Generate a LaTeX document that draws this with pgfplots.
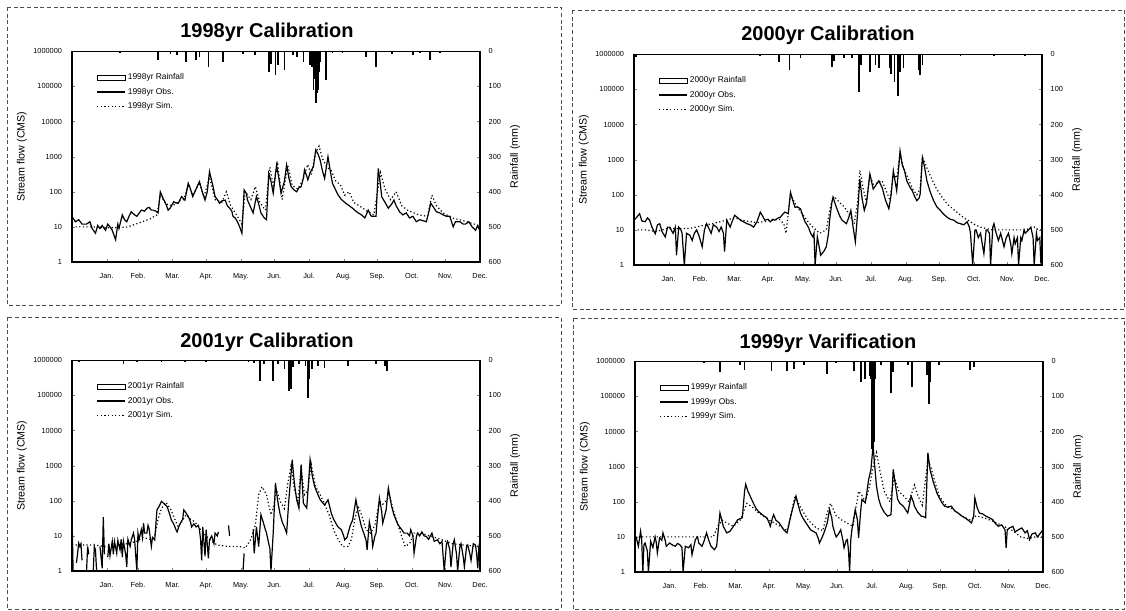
\documentclass[border=0pt]{standalone}
\usepackage{fontspec}
\setmainfont{Liberation Sans}
\usepackage{pgfplots}
\pgfplotsset{compat=1.18}

\pgfplotsset{
  legend image code/.code={\draw[#1] (0pt,0pt) -- (21pt,0pt);},
  flowax/.style={
    scale only axis, width=306pt, height=158pt, anchor=south west,
    xmin=0, xmax=365, ymin=1, ymax=1000000,
    xtick={31,59,90,120,151,181,212,243,273,304,334,365},
    xticklabels={Jan.,Feb.,Mar.,Apr.,May.,Jun.,Jul.,Aug.,Sep.,Oct.,Nov.,Dec.},
    ytick={1,10,100,1000,10000,100000,1000000},
    yticklabels={1,10,100,1000,10000,100000,1000000},
    yminorticks=false,
    xtick pos=bottom, ytick pos=left,
    tick align=inside, major tick length=2pt,
    tick label style={font=\fontsize{5.5}{6}\selectfont},
    yticklabel style={xshift=-4pt},
    xticklabel style={yshift=-5pt},
    ylabel={Stream flow (CMS)},
    ylabel style={yshift=-2pt},
    label style={font=\fontsize{8}{9}\selectfont},
    axis line style={line width=0.8pt},
    legend style={at={(0.05,0.92)}, anchor=north west, draw=none, fill=none,
      font=\fontsize{6.3}{7}\selectfont, row sep=0.6pt,
      nodes={inner xsep=1.5pt}},
    legend cell align=left,
    unbounded coords=jump,
  },
  rainax/.style={
    scale only axis, width=306pt, height=158pt, anchor=south west,
    xmin=0, xmax=365, ymin=0, ymax=600, y dir=reverse,
    axis x line=none, axis y line*=right,
    ytick={0,100,200,300,400,500,600},
    yticklabels={0,100,200,300,400,500,600},
    tick align=inside, major tick length=2pt,
    tick label style={font=\fontsize{5.5}{6}\selectfont},
    yticklabel style={xshift=3pt},
    ylabel={Rainfall (mm)},
    label style={font=\fontsize{8}{9}\selectfont},
    axis line style={line width=0.8pt},
  },
  obsline/.style={black, line width=0.9pt},
  simline/.style={black, line width=0.9pt, dash pattern=on 0.9pt off 1.8pt},
  rainbar/.style={black, ycomb, line width=1.3pt},
}
\newcommand{\rainleg}{\addlegendimage{legend image code/.code={\draw[line width=0.7pt, fill=white] (0pt,-1.8pt) rectangle (21pt,1.8pt);}}}
\newcommand{\ttl}{\fontsize{15}{18}\selectfont\bfseries}

\begin{document}
\begin{tikzpicture}
\useasboundingbox (0,0) rectangle (844.5pt,-457.5pt);
\begin{scope}[densely dashed, line width=0.4pt, black!70]
\draw (5.25pt,-5.25pt) rectangle (420.75pt,-228.75pt);
\draw (429pt,-7.5pt) rectangle (843.5pt,-231.75pt);
\draw (5.25pt,-237.75pt) rectangle (420.75pt,-456.75pt);
\draw (429.75pt,-238.5pt) rectangle (843.5pt,-456.75pt);
\end{scope}
\node at (200.25pt,-24pt) {\ttl 1998yr Calibration};
\node at (621pt,-26.25pt) {\ttl 2000yr Calibration};
\node at (200.25pt,-256.5pt) {\ttl 2001yr Calibration};
\node at (621pt,-257.25pt) {\ttl 1999yr Varification};

% ---------------- 1998 ----------------
\begin{axis}[rainax, at={(54pt,-196.5pt)}]
\addplot[rainbar] coordinates {(43,5)(57,3)(77,25)(88,8)(94,10)(102,30)(111,25)(114,15)(122,45)(135,30)(153,7)(164,10)(176,58)(178,35)(182,68)(184,40)(190,54)(198,10)(201,15)(207,30)(213,40)(215,45)(216,110)(217,80)(218,148)(219,120)(220,110)(221,60)(222,30)(227,82)(233,5)(242,5)(263,16)(272,45)(286,8)(305,10)(311,5)(320,25)(329,5)};
\end{axis}
\begin{semilogyaxis}[flowax, at={(54pt,-196.5pt)}]
\rainleg \addlegendentry{1998yr Rainfall}
\addplot[obsline] coordinates {(0,20)(3,14)(6,16)(9,12)(13,12)(16,14)(18,9)(21,6.6)(23,11)(25,9)(27,11)(30,8)(32,12)(34,10)(36,8)(39,4.3)(41,12)(42,9)(45,22)(47,16)(49,14)(51,20)(53,27)(56,22)(58,20)(62,30)(65,28)(67,34)(69,36)(71,30)(73,30)(75,28)(77,25)(79,100)(82,60)(84,45)(86,30)(88,35)(91,52)(93,48)(95,47)(98,73)(101,58)(104,175)(106,120)(108,73)(111,120)(114,195)(117,90)(119,58)(121,100)(123,375)(126,150)(128,73)(130,60)(132,47)(134,55)(137,58)(139,40)(141,34)(143,28)(144,20)(146,18)(148,14)(150,10)(152,6.6)(154,113)(156,90)(157,58)(160,35)(162,25)(165,73)(167,45)(169,25)(172,18)(174,16)(176,335)(178,200)(180,91)(183,580)(185,250)(187,91)(190,200)(192,580)(194,250)(196,140)(199,110)(201,100)(203,130)(205,140)(207,250)(208,420)(210,280)(211,218)(213,350)(216,520)(218,1550)(220,1200)(222,800)(224,400)(226,240)(229,1000)(231,400)(233,175)(236,110)(238,82)(241,60)(245,47)(248,40)(251,34)(254,28)(256,25)(259,22)(262,18)(265,30)(267,22)(268,20)(270,20)(272,20)(274,465)(276,150)(277,73)(280,50)(283,34)(286,45)(288,58)(290,40)(293,27)(296,22)(299,25)(302,18)(305,20)(308,14)(311,16)(314,15)(317,14)(319,25)(321,47)(323,38)(326,27)(329,25)(332,22)(335,20)(338,20)(341,10)(343,14)(347,14)(350,12)(352,12)(355,14)(358,10)(361,8)(363,11)(365,7.4)};
\addlegendentry{1998yr Obs.}
\addplot[simline] coordinates {(0,10)(10,10)(20,10)(30,9.5)(40,9.5)(50,10)(60,13)(70,17)(76,22)(79,80)(84,45)(90,40)(96,55)(100,60)(104,160)(108,80)(114,180)(118,70)(123,260)(128,60)(134,50)(138,100)(142,40)(148,20)(152,12)(155,100)(160,60)(164,140)(168,50)(173,30)(177,500)(180,150)(184,600)(188,60)(193,580)(197,150)(202,120)(206,200)(211,600)(214,300)(218,1300)(221,2000)(224,900)(228,500)(232,400)(236,200)(240,160)(244,80)(248,100)(252,50)(258,38)(264,28)(270,22)(276,350)(280,120)(285,60)(290,100)(295,40)(300,30)(310,22)(318,20)(322,80)(326,40)(332,25)(340,18)(350,15)(360,12)(365,10)};
\addlegendentry{1998yr Sim.}
\end{semilogyaxis}

% ---------------- 2000 ----------------
\begin{axis}[rainax, at={(475.5pt,-198.75pt)}]
\addplot[rainbar] coordinates {(2,8)(35,3)(80,3)(113,5)(118,3)(130,22)(139,45)(149,10)(166,3)(177,36)(179,20)(188,10)(195,10)(201,106)(203,30)(211,50)(216,31)(219,40)(229,40)(230,55)(233,78)(236,120)(238,50)(241,40)(255,45)(256,59)(258,31)(292,5)(322,5)(350,5)};
\end{axis}
\begin{semilogyaxis}[flowax, at={(475.5pt,-198.75pt)}]
\rainleg \addlegendentry{2000yr Rainfall}
\addplot[obsline] coordinates {(0,19)(2,22)(5,29)(7,18)(10,17)(12,22)(14,19)(16,12)(19,7.8)(21,14)(23,15)(25,9)(28,6.3)(30,12)(32,12)(34,9)(35,8)(37,12)(38,1.9)(40,12)(42,10)(43,8)(45,1)(47,8)(50,7)(52,5)(54,8)(56,10)(58,7)(61,3.3)(63,10)(65,15)(67,11)(69,8)(71,14)(74,12)(76,9)(78,12)(80,8)(81,2.4)(83,19)(86,12)(88,18)(90,26)(93,22)(95,19)(98,17)(101,15)(104,14)(107,12)(110,17)(113,32)(115,25)(117,19)(120,20)(122,17)(124,20)(126,19)(129,22)(131,23)(133,28)(135,32)(138,29)(140,117)(142,70)(144,44)(146,45)(149,40)(151,25)(153,17)(156,12)(158,8)(160,6.3)(161,8)(162,1)(164,6.3)(167,1.9)(170,2.5)(172,3.3)(174,8)(175,19)(177,60)(178,85)(181,44)(184,25)(186,19)(188,17)(190,15)(192,22)(194,36)(196,12)(198,4.6)(200,29)(202,280)(204,80)(206,36)(208,60)(211,390)(214,145)(216,180)(219,250)(222,160)(225,70)(228,40)(230,100)(232,480)(235,130)(237,700)(238,1780)(240,700)(242,480)(244,250)(247,160)(249,130)(251,90)(253,68)(255,80)(256,105)(258,1150)(260,600)(262,250)(265,120)(268,68)(271,45)(274,36)(277,28)(280,23)(283,20)(286,19)(289,16)(292,15)(295,14)(298,17)(300,12)(301,8)(303,1)(305,10)(306,10)(308,6)(310,8)(313,2.1)(315,10)(316,10)(318,8)(319,1)(321,12)(322,15)(324,8)(326,5)(328,8)(331,3.3)(333,6)(335,8)(337,4)(338,2.1)(340,6)(341,4)(343,6)(344,1)(346,6)(347,5)(349,10)(350,8)(353,10)(355,12)(357,6)(358,1)(360,8)(361,5)(363,6)(364,1.1)(365,5)};
\addlegendentry{2000yr Obs.}
\addplot[simline] coordinates {(0,10)(10,10)(20,9)(30,11)(40,11)(50,11)(60,13)(70,15)(80,18)(90,22)(100,18)(110,16)(120,18)(130,20)(134,15)(136,8)(138,30)(140,100)(145,50)(150,30)(155,18)(160,12)(166,8)(172,10)(176,50)(179,90)(184,60)(188,45)(192,30)(197,15)(200,60)(202,500)(205,150)(208,60)(211,350)(214,200)(218,220)(222,250)(226,120)(229,70)(232,400)(235,300)(238,1500)(241,600)(245,300)(249,150)(253,100)(256,150)(258,1200)(261,700)(265,350)(270,160)(275,90)(280,55)(285,40)(290,30)(295,22)(300,18)(305,14)(310,12)(320,10)(330,10)(340,10)(350,10)(358,12)(362,10)(365,10)};
\addlegendentry{2000yr Sim.}
\end{semilogyaxis}

% ---------------- 2001 ----------------
\begin{axis}[rainax, at={(54pt,-428.25pt)}]
\addplot[rainbar] coordinates {(6,5)(20,3)(46,10)(58,5)(80,5)(101,5)(120,5)(158,5)(163,8)(168,59)(172,10)(180,59)(184,10)(190,26)(194,88)(196,83)(198,20)(203,10)(209,15)(211,107)(212,54)(215,25)(220,15)(226,21)(247,16)(272,11)(280,15)(282,30)(320,3)};
\end{axis}
\begin{semilogyaxis}[flowax, at={(54pt,-428.25pt)}]
\rainleg \addlegendentry{2001yr Rainfall}
\addplot[obsline] coordinates {(0,40)(1,1)(2,nan)(4,1.7)(6,6.2)(7,5)(8,6)(9,2)(10,nan)(13,1)(14,5)(15,3)(17,nan)(19,1)(20,5)(21,4)(22,1)(23,nan)(25,5)(27,1.2)(28,34)(29,3)(30,nan)(32,2.5)(33,6)(34,2.7)(36,7)(37,3)(38,7)(40,3.2)(41,7.5)(43,4)(44,8)(45,2.5)(46,7)(48,3)(49,1.3)(50,8)(52,5)(53,7.7)(55,12)(56,8)(58,1)(59,12)(60,8)(62,15)(63,9)(64,23)(65,12)(67,12)(68,20)(69,16)(71,5)(72,9)(74,7.7)(76,55)(78,70)(80,96)(82,85)(85,69)(87,45)(89,28)(91,22)(93,15)(94,13)(96,20)(97,23)(99,30)(100,55)(102,45)(104,36)(106,25)(107,18)(109,22)(111,18)(113,20)(114,15)(115,8)(116,2)(117,18)(119,2.6)(120,15)(122,2.3)(123,7.7)(125,10)(127,6)(128,12)(130,10)(131,13)(132,nan)(140,20)(141,10)(142,nan)(153,1)(154,3.2)(155,nan)(162,15)(163,3.2)(165,18)(167,5)(169,40)(171,25)(173,15)(174,12)(176,6)(177,4.4)(178,1)(180,12)(182,320)(184,100)(186,44)(188,25)(190,18)(192,12)(194,107)(197,1480)(199,300)(201,107)(203,62)(205,1070)(207,85)(210,62)(213,1480)(215,500)(217,260)(220,150)(222,107)(224,90)(226,76)(229,107)(232,44)(234,30)(236,23)(238,18)(241,15)(243,10)(244,7.7)(246,9)(247,12)(249,20)(251,28)(254,107)(256,45)(259,18)(261,12)(263,7.7)(264,4)(266,25)(268,12)(269,5)(271,10)(272,12)(275,119)(277,50)(278,23)(281,55)(283,230)(285,100)(286,69)(288,40)(291,23)(293,18)(295,15)(297,12)(300,12)(302,10)(303,15)(305,10)(306,3.2)(308,9)(309,12)(311,10)(313,13)(315,10)(317,9.6)(319,8)(322,12)(324,7)(327,7.7)(329,6)(331,7)(333,1)(335,6)(336,7)(338,4)(339,1.3)(341,6)(342,7.7)(344,3)(345,1)(347,5)(348,6)(350,2.5)(351,1.3)(353,5)(354,5.5)(356,3)(357,2)(359,6)(361,5.5)(362,3)(363,1.2)(364,5)(365,7)};
\addlegendentry{2001yr Obs.}
\addplot[simline] coordinates {(0,5.5)(10,5.5)(20,5.5)(30,5)(40,5.5)(50,6)(58,7)(63,9)(70,8)(74,10)(77,30)(80,60)(84,90)(88,60)(92,30)(95,18)(98,25)(102,40)(106,30)(110,25)(115,15)(120,10)(125,7)(130,5.5)(140,5)(150,5)(155,4.5)(160,8)(164,20)(167,150)(170,250)(174,150)(178,40)(180,60)(183,200)(186,100)(190,60)(193,300)(196,1000)(199,200)(202,100)(205,800)(208,150)(211,200)(214,1100)(218,250)(222,150)(226,80)(230,40)(234,15)(238,8)(242,5)(247,5)(250,8)(253,30)(256,70)(259,40)(263,15)(267,12)(271,20)(275,100)(278,80)(281,100)(284,150)(287,60)(290,30)(294,12)(298,5)(302,6)(306,12)(312,12)(320,10)(330,8)(340,6)(350,5.5)(365,5)};
\addlegendentry{2001yr Sim.}
\end{semilogyaxis}

% ---------------- 1999 ----------------
\begin{axis}[rainax, at={(476.25pt,-429pt)}]
\addplot[rainbar] coordinates {(62,5)(76,31)(94,10)(98,25)(122,27)(136,27)(142,22)(151,10)(172,36)(180,5)(196,27)(202,60)(206,50)(210,41)(211,50)(212,250)(213,250)(214,230)(215,50)(220,10)(229,89)(231,30)(244,10)(248,74)(261,40)(263,122)(264,60)(272,10)(300,24)(303,15)(330,3)};
\end{axis}
\begin{semilogyaxis}[flowax, at={(476.25pt,-429pt)}]
\rainleg \addlegendentry{1999yr Rainfall}
\addplot[obsline] coordinates {(0,10)(1,10)(3,5.4)(5,14.5)(6,8)(7,1)(8,6)(9,6.7)(11,4)(12,1)(14,7.5)(16,5)(18,10)(19,7)(20,3.5)(22,9.4)(24,8)(25,13)(27,8)(28,5.4)(31,6.7)(33,6)(36,5.4)(38,6.5)(40,6)(42,5)(43,1)(45,5.4)(48,4.9)(50,6)(51,3.1)(54,8.4)(56,10)(57,6.7)(60,5.4)(62,8)(64,13)(66,8)(68,5.4)(71,4.3)(73,5.4)(76,48)(79,20)(82,13)(85,14.5)(88,20)(90,25)(92,31)(96,35)(98,200)(99,315)(101,200)(103,145)(106,90)(108,67)(110,55)(112,48)(115,40)(118,35)(120,25)(121,20)(123,35)(124,43)(126,30)(129,25)(131,20)(133,16)(136,13)(138,25)(140,48)(144,145)(146,80)(148,48)(150,35)(153,25)(155,20)(157,16)(160,14)(162,13)(164,9)(165,6.7)(167,9)(169,13)(172,25)(174,60)(176,35)(177,20)(179,12)(180,10)(182,12)(184,16)(186,8)(187,4.9)(189,8)(190,8.4)(191,4)(192,1)(193,8)(194,16)(197,60)(199,30)(200,9.4)(202,60)(203,116)(206,94)(207,150)(209,435)(211,800)(213,4000)(214,1500)(216,280)(218,120)(220,75)(223,50)(226,39)(229,43)(231,840)(233,300)(235,116)(237,90)(240,75)(242,60)(244,48)(247,145)(249,100)(250,75)(253,50)(256,39)(258,38)(260,35)(262,2500)(264,800)(267,350)(270,180)(273,116)(275,90)(277,75)(280,70)(283,75)(286,55)(289,48)(292,40)(295,35)(298,30)(301,25)(303,40)(304,130)(306,70)(308,48)(311,45)(314,39)(317,35)(320,31)(322,25)(325,20)(328,22)(331,16)(332,4.9)(333,16)(335,18)(338,20)(340,14)(343,16)(346,18)(349,13)(351,15)(353,8.4)(355,12)(358,13)(360,10)(362,12)(365,16)};
\addlegendentry{1999yr Obs.}
\addplot[simline] coordinates {(0,10)(20,10)(40,10)(60,10)(70,10)(74,20)(78,30)(82,25)(88,20)(94,30)(100,90)(105,70)(110,50)(120,30)(130,20)(136,15)(140,50)(143,150)(148,70)(155,30)(162,18)(168,15)(172,50)(175,90)(180,40)(185,30)(195,20)(200,200)(203,150)(206,100)(210,300)(213,1000)(216,2500)(219,800)(223,200)(228,100)(232,500)(236,200)(240,150)(245,100)(250,300)(253,150)(257,80)(262,1500)(265,900)(268,400)(272,150)(278,80)(285,60)(292,40)(300,30)(305,40)(312,35)(320,28)(330,20)(338,15)(345,10)(352,9)(358,10)(365,10)};
\addlegendentry{1999yr Sim.}
\end{semilogyaxis}
\end{tikzpicture}
\end{document}
